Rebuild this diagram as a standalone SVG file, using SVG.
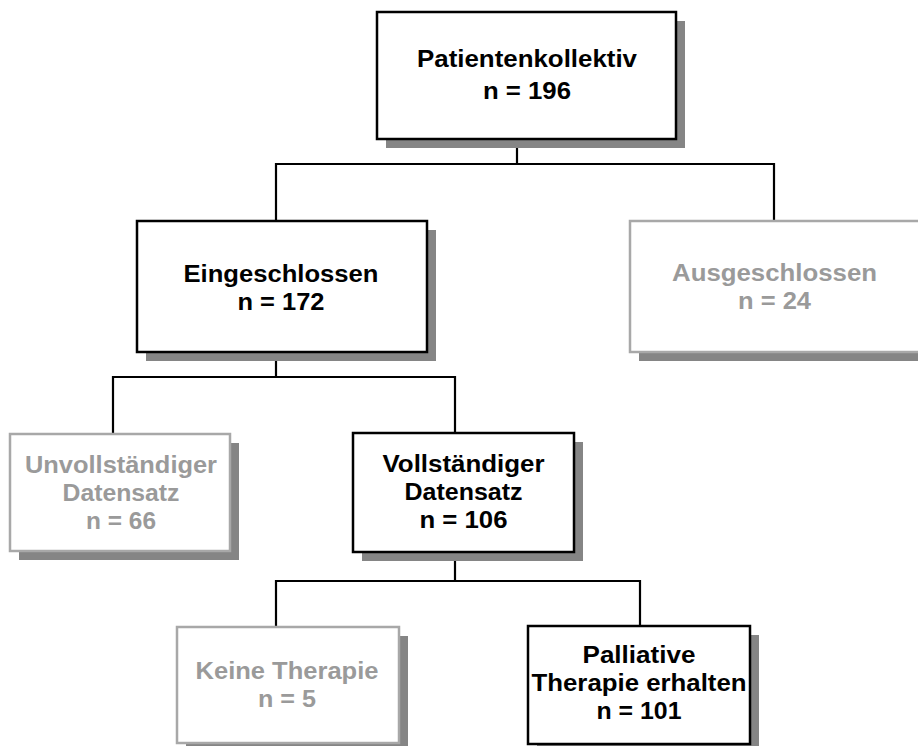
<svg xmlns="http://www.w3.org/2000/svg" width="918" height="746" viewBox="0 0 918 746">
<style>
.bg{fill:#ffffff}
.sh{fill:#858585}
.bx{fill:#ffffff;stroke:#000000;stroke-width:2.5}
.gx{fill:#ffffff;stroke:#a8a8a8;stroke-width:2.5}
.t{font-family:"Liberation Sans",Arial,Helvetica,sans-serif;font-weight:bold;font-size:23px;text-anchor:middle;fill:#000000}
.g{fill:#9a9a9a}
.ln{fill:none;stroke:#000000;stroke-width:2.2}
</style>
<rect class="bg" x="0" y="0" width="918" height="746"/>
<g id="connectors">
<path class="ln" d="M517 139 V164 M276 221 V164 H774 V221"/>
<path class="ln" d="M276 352 V377 M113 434 V377 H455 V433"/>
<path class="ln" d="M455 552 V581 M276 627 V581 H640 V626"/>
</g>
<g id="patientenkollektiv">
<rect class="sh" x="386" y="21" width="299" height="127"/>
<rect class="bx" x="377" y="12" width="299" height="127"/>
<text class="t" x="527" y="67" textLength="220" lengthAdjust="spacingAndGlyphs">Patientenkollektiv</text>
<text class="t" x="527" y="99" textLength="88" lengthAdjust="spacingAndGlyphs">n = 196</text>
</g>
<g id="eingeschlossen">
<rect class="sh" x="146" y="230" width="290" height="131"/>
<rect class="bx" x="137" y="221" width="290" height="131"/>
<text class="t" x="281" y="282" textLength="195" lengthAdjust="spacingAndGlyphs">Eingeschlossen</text>
<text class="t" x="281" y="310" textLength="87" lengthAdjust="spacingAndGlyphs">n = 172</text>
</g>
<g id="ausgeschlossen">
<rect class="sh" x="639" y="230" width="290" height="131"/>
<rect class="gx" x="630" y="221" width="290" height="131"/>
<text class="t g" x="774.5" y="281" textLength="205" lengthAdjust="spacingAndGlyphs">Ausgeschlossen</text>
<text class="t g" x="774.5" y="309" textLength="73" lengthAdjust="spacingAndGlyphs">n = 24</text>
</g>
<g id="unvollstaendiger">
<rect class="sh" x="19" y="443" width="220" height="117"/>
<rect class="gx" x="10" y="434" width="220" height="117"/>
<text class="t g" x="121" y="473" textLength="192" lengthAdjust="spacingAndGlyphs">Unvollständiger</text>
<text class="t g" x="121" y="501" textLength="117" lengthAdjust="spacingAndGlyphs">Datensatz</text>
<text class="t g" x="121" y="529" textLength="70" lengthAdjust="spacingAndGlyphs">n = 66</text>
</g>
<g id="vollstaendiger">
<rect class="sh" x="362" y="442" width="221" height="119"/>
<rect class="bx" x="353" y="433" width="221" height="119"/>
<text class="t" x="463.5" y="472" textLength="162" lengthAdjust="spacingAndGlyphs">Vollständiger</text>
<text class="t" x="463.5" y="500" textLength="118" lengthAdjust="spacingAndGlyphs">Datensatz</text>
<text class="t" x="463.5" y="528" textLength="88" lengthAdjust="spacingAndGlyphs">n = 106</text>
</g>
<g id="keine-therapie">
<rect class="sh" x="186" y="636" width="222" height="116"/>
<rect class="gx" x="177" y="627" width="222" height="116"/>
<text class="t g" x="287" y="679" textLength="183" lengthAdjust="spacingAndGlyphs">Keine Therapie</text>
<text class="t g" x="287" y="707" textLength="58" lengthAdjust="spacingAndGlyphs">n = 5</text>
</g>
<g id="palliative">
<rect class="sh" x="537" y="635" width="222" height="118"/>
<rect class="bx" x="528" y="626" width="222" height="118"/>
<text class="t" x="639" y="663" textLength="113" lengthAdjust="spacingAndGlyphs">Palliative</text>
<text class="t" x="639" y="691" textLength="215" lengthAdjust="spacingAndGlyphs">Therapie erhalten</text>
<text class="t" x="639" y="719" textLength="85" lengthAdjust="spacingAndGlyphs">n = 101</text>
</g>
</svg>
